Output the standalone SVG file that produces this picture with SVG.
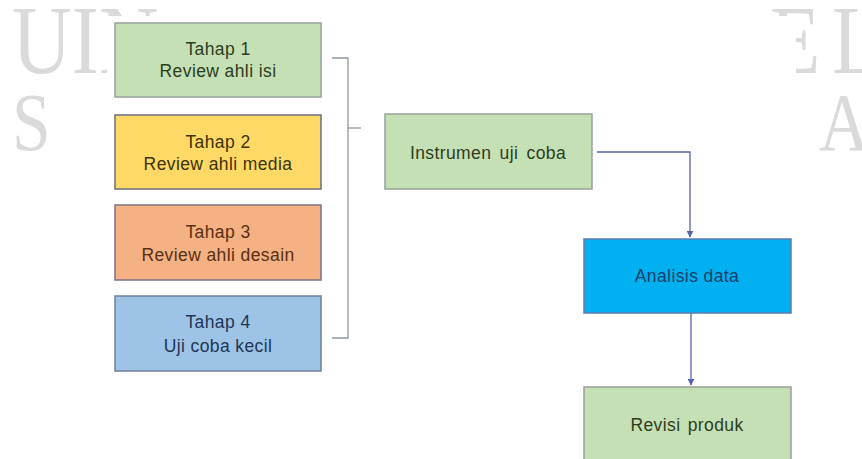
<svg xmlns="http://www.w3.org/2000/svg" width="862" height="459" viewBox="0 0 862 459">
  <style>
    .wm { font-family: "Liberation Serif", serif; fill: #dadada; }
    .box { stroke-width: 1.5; }
    .t { font-family: "Liberation Sans", Arial, sans-serif; font-size: 17.5px; letter-spacing: 0.4px; text-anchor: middle; }
    .conn { fill: none; stroke: #5565a6; stroke-width: 1.3; }
    .brk { fill: none; stroke: #8f96a3; stroke-width: 1.3; }
  </style>
  <defs>
    <marker id="arr" viewBox="0 0 10 10" refX="9" refY="5" markerWidth="7" markerHeight="7" markerUnits="userSpaceOnUse" orient="auto">
      <path d="M0,0 L10,5 L0,10 Z" fill="#5565a6"/>
    </marker>
  </defs>
  <rect x="0" y="0" width="862" height="459" fill="#ffffff"/>
  <g id="watermark">
    <text class="wm" transform="translate(12,73) scale(0.85,1)" font-size="97">UIN</text>
    <text class="wm" transform="translate(770,73) scale(0.85,1)" font-size="97">E</text>
    <text class="wm" transform="translate(832,73) scale(0.85,1)" font-size="97">L</text>
    <text class="wm" transform="translate(12,150) scale(0.85,1)" font-size="82">S</text>
    <text class="wm" transform="translate(819,150) scale(0.85,1)" font-size="82">A</text>
  </g>
  <rect x="107" y="16" width="689" height="450" fill="#ffffff"/>

  <g id="connectors">
    <path class="brk" d="M332,58 H348 V338 H332"/>
    <path class="brk" d="M348,128 H361"/>
    <path class="conn" d="M597,152 H690 V237" marker-end="url(#arr)"/>
    <path class="conn" d="M691,313 V385" marker-end="url(#arr)"/>
  </g>

  <g id="tahap1">
    <rect class="box" x="115" y="23" width="206" height="74" fill="#c5e0b4" stroke="#95a39a"/>
    <text class="t" x="218" y="55" fill="#2c3d22">Tahap 1</text>
    <text class="t" x="218" y="77" fill="#2c3d22">Review ahli isi</text>
  </g>
  <g id="tahap2">
    <rect class="box" x="115" y="115" width="206" height="74" fill="#ffd966" stroke="#6c6f7e"/>
    <text class="t" x="218" y="148" fill="#3d3200">Tahap 2</text>
    <text class="t" x="218" y="170" fill="#3d3200">Review ahli media</text>
  </g>
  <g id="tahap3">
    <rect class="box" x="115" y="205" width="206" height="75" fill="#f4b183" stroke="#7d7185"/>
    <text class="t" x="218" y="238" fill="#5a2f12">Tahap 3</text>
    <text class="t" x="218" y="261" fill="#5a2f12">Review ahli desain</text>
  </g>
  <g id="tahap4">
    <rect class="box" x="115" y="296" width="206" height="75" fill="#9dc3e6" stroke="#6f7f9c"/>
    <text class="t" x="218" y="328" fill="#1f3656">Tahap 4</text>
    <text class="t" x="218" y="352" fill="#1f3656">Uji coba kecil</text>
  </g>
  <g id="instrumen">
    <rect class="box" x="385" y="114" width="207" height="75" fill="#c5e0b4" stroke="#95a39a"/>
    <text class="t" x="488" y="159" fill="#2c3d22" word-spacing="3px">Instrumen uji coba</text>
  </g>
  <g id="analisis">
    <rect class="box" x="584" y="239" width="207" height="74" fill="#00b0f0" stroke="#5b7db3"/>
    <text class="t" x="687" y="282" fill="#11406a">Analisis data</text>
  </g>
  <g id="revisi">
    <rect class="box" x="584" y="387" width="207" height="76" fill="#c5e0b4" stroke="#95a39a"/>
    <text class="t" x="687" y="431" fill="#2c3d22" word-spacing="2px">Revisi produk</text>
  </g>
</svg>
